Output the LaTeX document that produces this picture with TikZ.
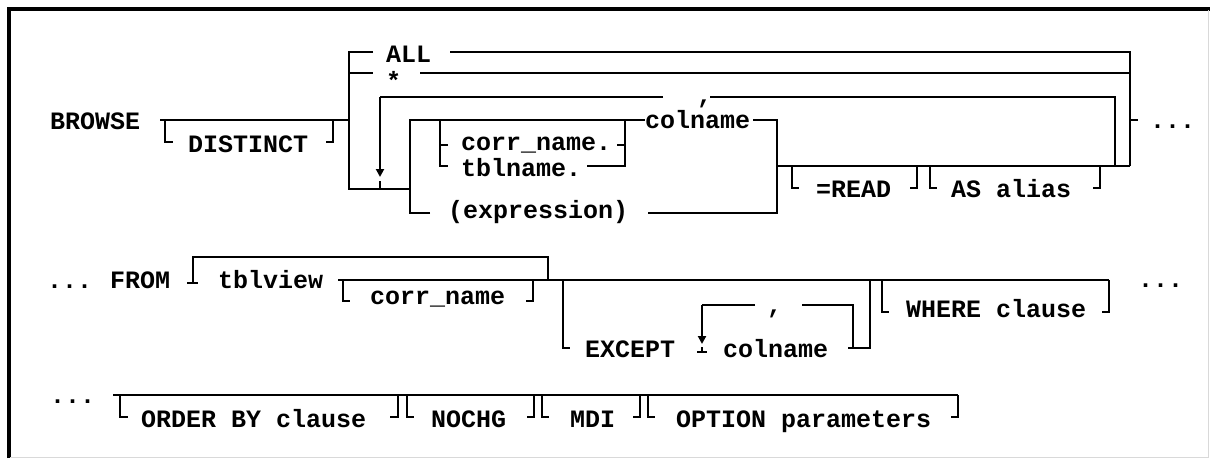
\documentclass[tikz,border=0pt]{standalone}
\usepackage{fontspec}
\setmonofont{Liberation Mono}
\usetikzlibrary{arrows.meta}
\begin{document}
\begin{tikzpicture}[x=1pt,y=-1pt,
  ln/.style={line width=2.2pt},
  arr/.style={line width=2.2pt,-{Triangle[width=8pt,length=8pt]}},
  lbl/.style={anchor=base west, inner sep=0pt, font=\fontsize{25}{30}\selectfont\ttfamily\bfseries},
]
\useasboundingbox (0,0) rectangle (1210,458);
\fill[white] (0,0) rectangle (1210,458);
% frame
\draw[line width=3.5pt] (8.75,458) -- (8.75,8.75) -- (1210,8.75);
\draw[black!15, line width=1pt] (1208,10) -- (1208,457) -- (10,457);

% ---------------- Row 1 ----------------
\node[lbl] (browse) at (50,129) {BROWSE};
\draw[ln] (160,120) -- (349,120);
\draw[ln] (165,120) -- (165,142) -- (173,142);
\node[lbl] (distinct) at (188,152) {DISTINCT};
\draw[ln] (326,142) -- (333,142) -- (333,120);

\draw[ln] (373,52) -- (349,52) -- (349,189) -- (410,189);
\draw[ln] (349,73) -- (373,73);
\node[lbl] (all) at (386,62) {ALL};
\node[lbl] (star) at (386,89) {*};
\draw[ln] (450,52) -- (1130,52) -- (1130,166);
\draw[ln] (420,73) -- (1130,73);
\draw[ln] (1130,120) -- (1138,120);
\node[lbl] (dots1) at (1150,128) {...};

% repetition loop
\draw[ln] (663,97) -- (380,97);
\draw[arr] (380,97) -- (380,177);
\draw[ln] (380,181) -- (380,189);
\node[lbl] (comma1) at (697,103) {,};
\draw[ln] (710,97) -- (1115,97) -- (1115,166);

% inner choice
\draw[ln] (430,213) -- (410,213) -- (410,120) -- (645,120);
\draw[ln] (448,145) -- (440,145);
\draw[ln] (440,120) -- (440,166) -- (448,166);
\node[lbl] (corr) at (461,150) {corr\_name.};
\node[lbl] (tbl) at (461,176) {tblname.};
\draw[ln] (617,145) -- (625,145);
\draw[ln] (587,166) -- (625,166) -- (625,120);
\node[lbl] (colname1) at (645,128) {colname};
\draw[ln] (753,120) -- (777,120) -- (777,213) -- (648,213);
\node[lbl] (expr) at (448,218) {(expression)};

% READ / alias
\draw[ln] (777,166) -- (1130,166);
\draw[ln] (792,166) -- (792,188) -- (799,188);
\node[lbl] (read) at (816,197) {=READ};
\draw[ln] (910,188) -- (917,188) -- (917,166);
\draw[ln] (930,166) -- (930,188) -- (937,188);
\node[lbl] (alias) at (951,197) {AS alias};
\draw[ln] (1093,188) -- (1100,188) -- (1100,166);

% ---------------- Row 2 ----------------
\node[lbl] (dots2) at (47,288) {...};
\node[lbl] (from) at (110,288) {FROM};
\draw[ln] (187,283) -- (198,283);
\draw[ln] (193,283) -- (193,257) -- (548,257) -- (548,280);
\node[lbl] (tblview) at (218,288) {tblview};
\draw[ln] (338,280) -- (1109,280);
\draw[ln] (343,280) -- (343,301) -- (350,301);
\node[lbl] (corr2) at (370,304) {corr\_name};
\draw[ln] (526,301) -- (533,301) -- (533,280);

\draw[ln] (563,280) -- (563,348) -- (570,348);
\node[lbl] (except) at (585,357) {EXCEPT};
\draw[ln] (755,305) -- (702,305);
\draw[arr] (702,305) -- (702,344);
\draw[ln] (702,347) -- (702,352);
\draw[ln] (697,352) -- (707,352);
\node[lbl] (comma2) at (767,313) {,};
\draw[ln] (802,305) -- (853,305) -- (853,348);
\node[lbl] (colname2) at (723,357) {colname};
\draw[ln] (848,348) -- (870,348) -- (870,280);

\draw[ln] (882,280) -- (882,312) -- (889,312);
\node[lbl] (where) at (906,317) {WHERE clause};
\draw[ln] (1102,312) -- (1109,312) -- (1109,280);
\node[lbl] (dots3) at (1138,287) {...};

% ---------------- Row 3 ----------------
\node[lbl] (dots4) at (50,403) {...};
\draw[ln] (113,395) -- (958,395);
\draw[ln] (120,395) -- (120,417) -- (128,417);
\node[lbl] (order) at (141,427) {ORDER BY clause};
\draw[ln] (390,417) -- (398,417) -- (398,395);
\draw[ln] (407,395) -- (407,417) -- (414,417);
\node[lbl] (nochg) at (431,427) {NOCHG};
\draw[ln] (527,417) -- (534,417) -- (534,395);
\draw[ln] (542,395) -- (542,417) -- (549,417);
\node[lbl] (mdi) at (570,427) {MDI};
\draw[ln] (633,417) -- (640,417) -- (640,395);
\draw[ln] (648,395) -- (648,417) -- (655,417);
\node[lbl] (option) at (676,427) {OPTION parameters};
\draw[ln] (951,417) -- (958,417) -- (958,395);
\end{tikzpicture}
\end{document}
